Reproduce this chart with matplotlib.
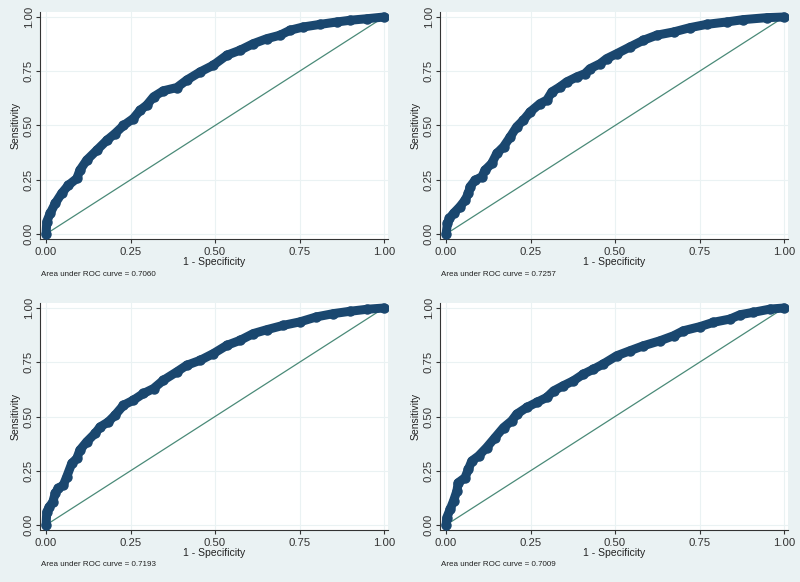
import matplotlib.pyplot as plt

plt.rcParams['font.family'] = ['Liberation Sans', 'DejaVu Sans']

# ROC curve points (1 - specificity, sensitivity)
fpr1 = [0, 0.002, 0.012, 0.027, 0.046, 0.066, 0.091, 0.10, 0.12, 0.15, 0.18, 0.204, 0.229,
        0.258, 0.278, 0.298, 0.318, 0.347, 0.387, 0.416, 0.456, 0.495, 0.535, 0.574, 0.613,
        0.653, 0.692, 0.722, 0.761, 0.811, 0.86, 0.90, 0.949, 1]
tpr1 = [0, 0.057, 0.095, 0.141, 0.187, 0.225, 0.256, 0.294, 0.34, 0.386, 0.432, 0.463, 0.50,
        0.532, 0.57, 0.594, 0.632, 0.66, 0.675, 0.709, 0.747, 0.778, 0.824, 0.847, 0.877,
        0.90, 0.916, 0.939, 0.954, 0.966, 0.977, 0.985, 0.992, 1]

fpr2 = [0, 0.004, 0.01, 0.022, 0.041, 0.056, 0.066, 0.071, 0.086, 0.106, 0.115, 0.135, 0.15,
        0.17, 0.19, 0.209, 0.229, 0.249, 0.278, 0.298, 0.313, 0.337, 0.357, 0.387, 0.411,
        0.426, 0.456, 0.475, 0.505, 0.544, 0.584, 0.623, 0.673, 0.722, 0.771, 0.83, 0.88,
        0.949, 1]
tpr2 = [0, 0.049, 0.072, 0.095, 0.126, 0.156, 0.187, 0.218, 0.248, 0.264, 0.294, 0.325, 0.371,
        0.402, 0.448, 0.494, 0.525, 0.563, 0.601, 0.617, 0.655, 0.678, 0.701, 0.724, 0.739,
        0.762, 0.785, 0.808, 0.831, 0.862, 0.893, 0.916, 0.931, 0.951, 0.966, 0.977, 0.988,
        0.997, 1]

fpr3 = [0, 0.002, 0.01, 0.02, 0.027, 0.036, 0.051, 0.061, 0.076, 0.091, 0.10, 0.12, 0.145,
        0.16, 0.184, 0.204, 0.229, 0.258, 0.288, 0.318, 0.347, 0.387, 0.416, 0.456, 0.495,
        0.535, 0.574, 0.613, 0.653, 0.702, 0.751, 0.80, 0.85, 0.90, 0.949, 1]
tpr3 = [0, 0.061, 0.084, 0.107, 0.146, 0.169, 0.184, 0.222, 0.284, 0.307, 0.345, 0.383, 0.422,
        0.452, 0.475, 0.506, 0.552, 0.575, 0.606, 0.629, 0.667, 0.706, 0.736, 0.759, 0.79,
        0.828, 0.851, 0.882, 0.90, 0.92, 0.936, 0.959, 0.974, 0.985, 0.994, 1]

fpr4 = [0, 0.002, 0.012, 0.022, 0.032, 0.036, 0.056, 0.066, 0.076, 0.096, 0.12, 0.145, 0.17,
        0.194, 0.209, 0.239, 0.268, 0.298, 0.318, 0.347, 0.377, 0.406, 0.436, 0.465, 0.505,
        0.544, 0.584, 0.633, 0.673, 0.702, 0.751, 0.791, 0.84, 0.87, 0.909, 0.959, 1]
tpr4 = [0, 0.034, 0.072, 0.111, 0.157, 0.195, 0.218, 0.257, 0.295, 0.318, 0.357, 0.403, 0.449,
        0.48, 0.511, 0.542, 0.565, 0.588, 0.618, 0.642, 0.665, 0.695, 0.718, 0.742, 0.78,
        0.803, 0.826, 0.849, 0.872, 0.895, 0.914, 0.934, 0.949, 0.969, 0.98, 0.995, 1]

auc_values = ["0.7060", "0.7257", "0.7193", "0.7009"]
ticks = [0, 0.25, 0.5, 0.75, 1]
tick_labels = ["0.00", "0.25", "0.50", "0.75", "1.00"]

bg = '#eaf2f3'
navy = '#1a476f'
refcol = '#4a8a78'

fig = plt.figure(figsize=(8, 5.82), dpi=100)
fig.patch.set_facecolor(bg)

# axes boxes in pixels: left, top of each panel
panels = [(40, 12, fpr1, tpr1, auc_values[0]),
          (440, 12, fpr2, tpr2, auc_values[1]),
          (40, 303, fpr3, tpr3, auc_values[2]),
          (440, 303, fpr4, tpr4, auc_values[3])]

W, H = 800, 582
for left, top, fx, ty, auc in panels:
    ax = fig.add_axes([left / W, 1 - (top + 227) / H, 348 / W, 227 / H])
    ax.set_facecolor('white')
    ax.plot([0, 1], [0, 1], color=refcol, lw=0.9, zorder=2)
    ax.plot(fx, ty, color=navy, lw=6.5, solid_capstyle='round', solid_joinstyle='round', zorder=3)
    ax.plot(fx, ty, 'o', color=navy, ms=6.5, zorder=4)
    ax.set_xlim(-0.018, 1.0118)
    ax.set_ylim(-0.023, 1.023)
    ax.set_xticks(ticks)
    ax.set_xticklabels(tick_labels, fontsize=8.2, color='#333333')
    ax.set_yticks(ticks)
    ax.set_yticklabels(tick_labels, fontsize=8.2, color='#333333', rotation=90, va='center')
    ax.grid(True, color=bg, lw=0.8)
    ax.set_axisbelow(True)
    for s in ['top', 'right']:
        ax.spines[s].set_visible(False)
    for s in ['left', 'bottom']:
        ax.spines[s].set_color('#333333')
        ax.spines[s].set_linewidth(0.8)
    ax.tick_params(axis='x', length=3, width=0.8, color='#333333', pad=2.5)
    ax.tick_params(axis='y', length=3, width=0.8, color='#333333', pad=1.5)
    ax.set_xlabel("1 - Specificity", fontsize=7.5, color='#222222', labelpad=0)
    ax.set_ylabel("Sensitivity", fontsize=7.5, color='#222222', labelpad=2)
    fig.text((left + 1) / W, 1 - (top + 262) / H, "Area under ROC curve = " + auc,
             fontsize=5.8, color='#222222', va='center')

fig.savefig("out.png", dpi=100, facecolor=bg)
